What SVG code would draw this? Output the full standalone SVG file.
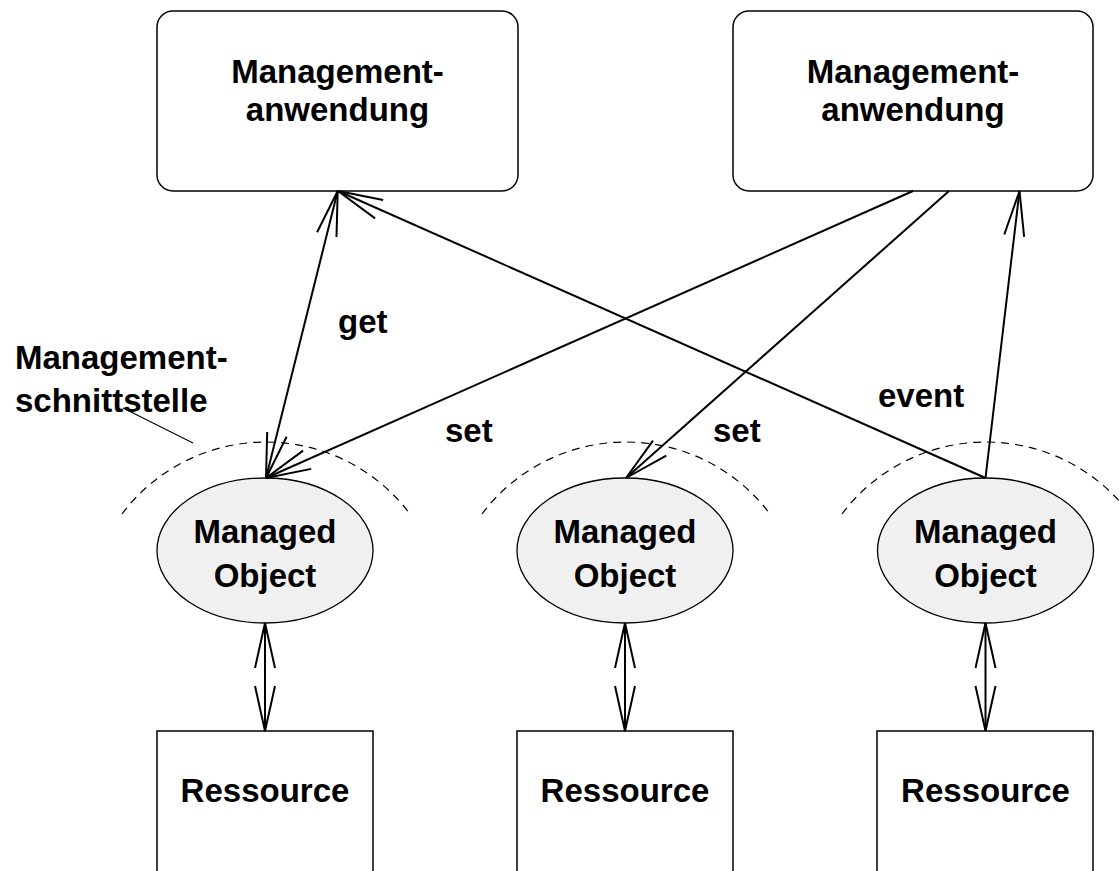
<svg xmlns="http://www.w3.org/2000/svg" width="1120" height="871" viewBox="0 0 1120 871">
  <style>
    .txt { font-family: "Liberation Sans", Arial, sans-serif; font-weight: bold; font-size: 33px; fill: #000; }
    .mid { text-anchor: middle; }
    .app { fill: #fff; stroke: #000; stroke-width: 1.5; }
    .mo { fill: #f0f0f0; stroke: #000; stroke-width: 1.3; }
    .res { fill: #fff; stroke: #000; stroke-width: 1.5; }
    .link { fill: none; stroke: #000; stroke-width: 2; }
    .iface { fill: none; stroke: #000; stroke-width: 1.2; stroke-dasharray: 8 6; }
    .pointer { fill: none; stroke: #000; stroke-width: 1.2; }
  </style>
  <defs>
    <marker id="open" markerUnits="userSpaceOnUse" markerWidth="60" markerHeight="30" refX="0" refY="0" viewBox="-50 -15 60 30" orient="auto-start-reverse" overflow="visible">
      <path d="M-45,-10 L0,0 L-45,10" fill="none" stroke="#000" stroke-width="2"/>
    </marker>
  </defs>

  <rect width="1120" height="871" fill="#fff"/>

  <!-- management applications -->
  <g id="app-left">
    <rect class="app" x="157" y="11" width="361" height="180" rx="16" ry="16"/>
    <text class="txt mid" x="337.5" y="83">Management-</text>
    <text class="txt mid" x="337.5" y="121">anwendung</text>
  </g>
  <g id="app-right">
    <rect class="app" x="733" y="11" width="360" height="180" rx="16" ry="16"/>
    <text class="txt mid" x="913" y="83">Management-</text>
    <text class="txt mid" x="913" y="121">anwendung</text>
  </g>

  <!-- management interface boundaries -->
  <g id="interfaces">
    <path class="iface" d="M122,514 A180,180 0 0 1 410,514"/>
    <path class="iface" d="M482,514 A180,180 0 0 1 770,514"/>
    <path class="iface" d="M842,514 A180,180 0 0 1 1130,514"/>
  </g>

  <g id="interface-label">
    <text class="txt" x="15" y="369">Management-</text>
    <text class="txt" x="15" y="412">schnittstelle</text>
    <line class="pointer" x1="123" y1="408" x2="193" y2="443"/>
  </g>

  <!-- managed objects -->
  <g id="mo-1">
    <ellipse class="mo" cx="265" cy="550.5" rx="108" ry="72.5"/>
    <text class="txt mid" x="265" y="543">Managed</text>
    <text class="txt mid" x="265" y="587">Object</text>
  </g>
  <g id="mo-2">
    <ellipse class="mo" cx="625" cy="550.5" rx="108" ry="72.5"/>
    <text class="txt mid" x="625" y="543">Managed</text>
    <text class="txt mid" x="625" y="587">Object</text>
  </g>
  <g id="mo-3">
    <ellipse class="mo" cx="985.5" cy="550.5" rx="108" ry="72.5"/>
    <text class="txt mid" x="985.5" y="543">Managed</text>
    <text class="txt mid" x="985.5" y="587">Object</text>
  </g>

  <!-- resources -->
  <g id="res-1">
    <rect class="res" x="157" y="731" width="216" height="160"/>
    <text class="txt mid" x="265" y="802">Ressource</text>
  </g>
  <g id="res-2">
    <rect class="res" x="517" y="731" width="216" height="160"/>
    <text class="txt mid" x="625" y="802">Ressource</text>
  </g>
  <g id="res-3">
    <rect class="res" x="877" y="731" width="216" height="160"/>
    <text class="txt mid" x="985.5" y="802">Ressource</text>
  </g>

  <!-- connectors -->
  <g id="connectors">
    <line class="link" x1="337.7" y1="191" x2="266" y2="478" marker-start="url(#open)" marker-end="url(#open)"/>
    <line class="link" x1="985.5" y1="478" x2="338" y2="191" marker-end="url(#open)"/>
    <line class="link" x1="985.5" y1="478" x2="1019.5" y2="191" marker-end="url(#open)"/>
    <line class="link" x1="913" y1="191" x2="266" y2="478" marker-end="url(#open)"/>
    <line class="link" x1="949" y1="191" x2="626" y2="478" marker-end="url(#open)"/>
    <line class="link" x1="265" y1="623" x2="265" y2="731" marker-start="url(#open)" marker-end="url(#open)"/>
    <line class="link" x1="625" y1="623" x2="625" y2="731" marker-start="url(#open)" marker-end="url(#open)"/>
    <line class="link" x1="985.5" y1="623" x2="985.5" y2="731" marker-start="url(#open)" marker-end="url(#open)"/>
  </g>

  <!-- connector labels -->
  <g id="labels">
    <text class="txt" x="338" y="333">get</text>
    <text class="txt" x="445" y="442">set</text>
    <text class="txt" x="713" y="442">set</text>
    <text class="txt" x="878" y="407">event</text>
  </g>
</svg>
